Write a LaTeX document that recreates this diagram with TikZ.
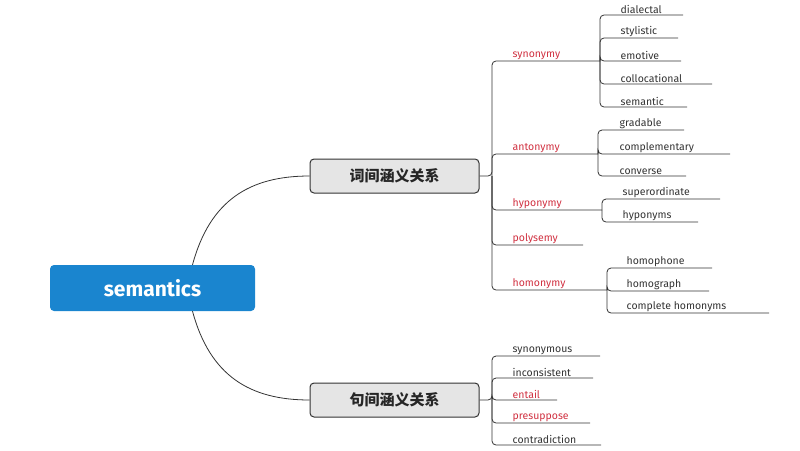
\documentclass[tikz,border=0pt]{standalone}
\usepackage{fontspec}
\setmainfont{Fira Sans}
\newfontfamily\cjk{Noto Sans CJK SC}
\begin{document}
\begin{tikzpicture}[x=1pt,y=-1pt,
  conn/.style={draw=black!80,line width=0.8pt,rounded corners=4pt},
  leaf/.style={anchor=south west,inner sep=1.5pt,font=\fontsize{10.5}{12}\selectfont,text=black!80},
  red leaf/.style={leaf,text={rgb,255:red,208;green,48;blue,64}},
  mid/.style={draw=black!80,line width=1pt,fill=black!10,rounded corners=4pt,minimum width=169pt,minimum height=34pt,font=\cjk\fontsize{15}{18}\selectfont\bfseries,text=black!85},
  root/.style={fill={rgb,255:red,26;green,133;blue,207},rounded corners=4pt,minimum width=205pt,minimum height=46pt,text=white,font=\fontsize{21}{24}\selectfont\bfseries}]
\useasboundingbox (0,0) rectangle (800,450);
\node[root] (root) at (152.5,288) {semantics};
\node[mid] (w) at (394.5,176) {词间涵义关系};
\node[mid] (s) at (394.5,400) {句间涵义关系};
\draw[black!80,line width=0.8pt] (root.north) ++(40,0) coordinate (rt) (rt) .. controls (210,200) and (250,176) .. (w.west);
\draw[black!80,line width=0.8pt] (root.south) ++(40,0) coordinate (rb) (rb) .. controls (210,376) and (250,400) .. (s.west);
\coordinate (wJ) at (492,176);
\coordinate (sJ) at (492,400);
% level 2 under w
\node[red leaf] (syn) at (511,61) {synonymy};
\node[red leaf] (ant) at (511,154) {antonymy};
\node[red leaf] (hyp) at (511,210) {hyponymy};
\node[red leaf] (pol) at (511,245) {polysemy};
\node[red leaf] (hom) at (511,290) {homonymy};
\draw[conn] (w.east) -- (wJ) |- (syn.south west) -- (600,61);
\draw[conn] (wJ) |- (ant.south west) -- (598,154);
\draw[conn] (wJ) |- (hyp.south west) -- (602,210);
\draw[conn] (wJ) |- (pol.south west) -- (583,245);
\draw[conn] (wJ) |- (hom.south west) -- (607,290);
\coordinate (synJ) at (600,61);
\coordinate (antJ) at (598,154);
\coordinate (hypJ) at (602,210);
\coordinate (homJ) at (607,290);
% synonymy children
\node[leaf] (d1) at (619,15) {dialectal};
\node[leaf] (d2) at (619,38) {stylistic};
\node[leaf] (d3) at (619,61) {emotive};
\node[leaf] (d4) at (619,84) {collocational};
\node[leaf] (d5) at (619,107) {semantic};
\draw[conn] (synJ) |- (d1.south west) -- (683,15);
\draw[conn] (synJ) |- (d2.south west) -- (678,38);
\draw[conn] (synJ) |- (d3.south west) -- (681,61);
\draw[conn] (synJ) |- (d4.south west) -- (712,84);
\draw[conn] (synJ) |- (d5.south west) -- (687,107);
% antonymy children
\node[leaf] (a1) at (618,130) {gradable};
\node[leaf] (a2) at (618,154) {complementary};
\node[leaf] (a3) at (618,176) {converse};
\draw[conn] (antJ) |- (a1.south west) -- (684,130);
\draw[conn] (antJ) |- (a2.south west) -- (730,154);
\draw[conn] (antJ) |- (a3.south west) -- (686,176);
% hyponymy children
\node[leaf] (h1) at (621,199) {superordinate};
\node[leaf] (h2) at (621,222) {hyponyms};
\draw[conn] (hypJ) |- (h1.south west) -- (720,199);
\draw[conn] (hypJ) |- (h2.south west) -- (698,222);
% homonymy children
\node[leaf] (m1) at (625,268) {homophone};
\node[leaf] (m2) at (625,291) {homograph};
\node[leaf] (m3) at (625,313) {complete homonyms};
\draw[conn] (homJ) |- (m1.south west) -- (712,268);
\draw[conn] (homJ) |- (m2.south west) -- (709,291);
\draw[conn] (homJ) |- (m3.south west) -- (769,313);
% sentence relations
\node[leaf] (t1) at (511,356) {synonymous};
\node[leaf] (t2) at (511,378) {inconsistent};
\node[red leaf] (t3) at (511,400) {entail};
\node[red leaf] (t4) at (511,423) {presuppose};
\node[leaf] (t5) at (511,445) {contradiction};
\draw[conn] (s.east) -- (sJ) |- (t1.south west) -- (600,356);
\draw[conn] (sJ) |- (t2.south west) -- (593,378);
\draw[conn] (sJ) |- (t3.south west) -- (557,400);
\draw[conn] (sJ) |- (t4.south west) -- (590,423);
\draw[conn] (sJ) |- (t5.south west) -- (601,445);
\end{tikzpicture}
\end{document}
